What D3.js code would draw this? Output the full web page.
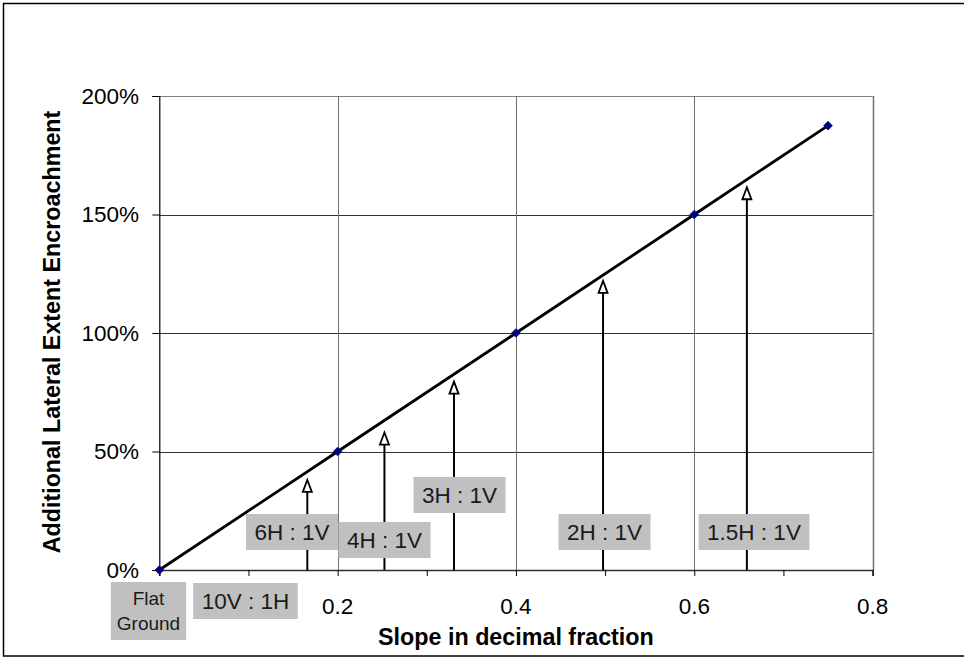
<!DOCTYPE html>
<html>
<head>
<meta charset="utf-8">
<script src="https://cdn.jsdelivr.net/npm/d3@7/dist/d3.min.js"></script>
<style>
  html, body { margin: 0; padding: 0; background: #fff; }
  svg { display: block; font-family: "Liberation Sans", Arial, sans-serif; }
</style>
</head>
<body>
<svg id="chart" width="964" height="658"></svg>
<script>
// Slope (decimal) vs. additional lateral extent encroachment
const slopes = [0, 0.2, 0.4, 0.6, 0.75];
const encroachment = [0, 0.5, 1.0, 1.5, 1.875];

// Reference slope ratios marked with arrows
const ratioLabels = ["6H : 1V", "4H : 1V", "3H : 1V", "2H : 1V", "1.5H : 1V"];
const ratioSlopes = [0.166, 0.2525, 0.3305, 0.4977, 0.659];
const ratioArrowTops = [0.38, 0.58, 0.795, 1.22, 1.615];

// Axis ticks
const xTicks = [0, 0.1, 0.2, 0.3, 0.4, 0.5, 0.6, 0.7, 0.8];
const xTickLabels = [0.2, 0.4, 0.6, 0.8];
const yTicks = [0, 0.5, 1.0, 1.5, 2.0];

const xTitle = "Slope in decimal fraction";
const yTitle = "Additional Lateral Extent Encroachment";

// Layout
const plot = { left: 159.3, right: 872.6, top: 96, bottom: 570 };
// label box centres (pixels)
const ratioBoxCentres = [[292, 532], [384.5, 540], [459.5, 495], [604.5, 532], [754, 532]];

const svg = d3.select("#chart");

const x = d3.scaleLinear().domain([0, 0.8]).range([plot.left, plot.right]);
const y = d3.scaleLinear().domain([0, 2]).range([plot.bottom, plot.top]);

// outer frame
svg.append("rect")
  .attr("x", 3.5).attr("y", 3.5).attr("width", 962).attr("height", 652.5)
  .attr("fill", "none").attr("stroke", "#000").attr("stroke-width", 1.5);

// gridlines
const grid = svg.append("g");
grid.selectAll("line.h").data(yTicks.filter(d => d > 0)).join("line")
  .attr("x1", plot.left).attr("x2", plot.right)
  .attr("y1", d => Math.round(y(d)) + 0.5).attr("y2", d => Math.round(y(d)) + 0.5)
  .attr("stroke", d => d === 2 ? "#808080" : "#333").attr("stroke-width", 1);
grid.selectAll("line.v").data([0.2, 0.4, 0.6, 0.8]).join("line")
  .attr("x1", d => Math.round(x(d)) + 0.5).attr("x2", d => Math.round(x(d)) + 0.5)
  .attr("y1", plot.top).attr("y2", plot.bottom)
  .attr("stroke", "#707070").attr("stroke-width", d => d === 0.8 ? 1.5 : 1);

// axes
const xAxis = d3.axisBottom(x).tickValues(xTicks).tickSize(6).tickFormat("");
const gx = svg.append("g").attr("transform", `translate(0,${plot.bottom})`).call(xAxis);
gx.select(".domain").attr("stroke", "#303030").attr("stroke-width", 1.5);
gx.selectAll(".tick line").attr("stroke", "#000");

const yAxis = d3.axisLeft(y).tickValues(yTicks).tickSize(7).tickFormat("");
const gy = svg.append("g").attr("transform", `translate(${plot.left},0)`).call(yAxis);
gy.select(".domain").attr("stroke", "#000").attr("stroke-width", 1.2);
gy.selectAll(".tick line").attr("stroke", "#000");

// tick labels
svg.append("g").selectAll("text").data(yTicks).join("text")
  .attr("x", 139).attr("y", d => y(d))
  .attr("dy", "0.35em").attr("text-anchor", "end")
  .attr("font-size", 22.5).attr("fill", "#000")
  .text(d => d3.format(".0%")(d));

svg.append("g").selectAll("text").data(xTickLabels).join("text")
  .attr("x", d => x(d)).attr("y", 606)
  .attr("dy", "0.35em").attr("text-anchor", "middle")
  .attr("font-size", 22.5).attr("fill", "#000")
  .text(d => d3.format(".1f")(d));

// axis titles
svg.append("text")
  .attr("x", (plot.left + plot.right) / 2).attr("y", 637).attr("dy", "0.35em")
  .attr("text-anchor", "middle").attr("font-weight", "bold").attr("font-size", 23.3)
  .text(xTitle);

svg.append("text")
  .attr("transform", `translate(52,${(plot.top + plot.bottom) / 2 - 1}) rotate(-90)`)
  .attr("dy", "0.35em")
  .attr("text-anchor", "middle").attr("font-weight", "bold").attr("font-size", 23.3)
  .text(yTitle);

// arrows
const arrows = svg.append("g");
ratioSlopes.forEach((s, i) => {
  const ax = x(s), top = y(ratioArrowTops[i]);
  arrows.append("line")
    .attr("x1", ax).attr("x2", ax).attr("y1", plot.bottom).attr("y2", top + 10)
    .attr("stroke", "#000").attr("stroke-width", 2);
  arrows.append("path")
    .attr("d", `M${ax},${top} L${ax - 4.5},${top + 12} L${ax + 4.5},${top + 12} Z`)
    .attr("fill", "#fff").attr("stroke", "#000").attr("stroke-width", 1.8)
    .attr("stroke-linejoin", "miter");
});

// data line and markers
const pts = slopes.map((s, i) => [s, encroachment[i]]);
svg.append("path")
  .datum(pts)
  .attr("d", d3.line().x(d => x(d[0])).y(d => y(d[1])))
  .attr("fill", "none").attr("stroke", "#000").attr("stroke-width", 2.8);

svg.append("g").selectAll("path").data(pts).join("path")
  .attr("transform", d => `translate(${x(d[0])},${y(d[1])})`)
  .attr("d", d3.symbol(d3.symbolDiamond2, 48))
  .attr("fill", "#000080").attr("stroke", "#000080").attr("stroke-width", 0.8);

// ratio label boxes
function labelBox(cx, cy, lines, fontSize, padX, boxH) {
  const g = svg.append("g");
  const t = g.append("text").attr("text-anchor", "middle")
    .attr("font-size", fontSize).attr("fill", "#1a1a1a");
  const lh = fontSize * 1.3;
  lines.forEach((ln, k) => {
    t.append("tspan").attr("x", cx)
      .attr("y", cy + (k - (lines.length - 1) / 2) * lh)
      .attr("dy", "0.35em").text(ln);
  });
  const bb = t.node().getBBox();
  g.insert("rect", "text")
    .attr("x", cx - bb.width / 2 - padX).attr("y", cy - boxH / 2)
    .attr("width", bb.width + padX * 2).attr("height", boxH)
    .attr("fill", "#c0c0c0");
}

ratioLabels.forEach((lab, i) => {
  labelBox(ratioBoxCentres[i][0], ratioBoxCentres[i][1], [lab], 22.5, 8.5, 36);
});
labelBox(245.5, 601, ["10V : 1H"], 22.5, 8.5, 36);
labelBox(148.5, 611, ["Flat", "Ground"], 19, 6, 58);
</script>
</body>
</html>
